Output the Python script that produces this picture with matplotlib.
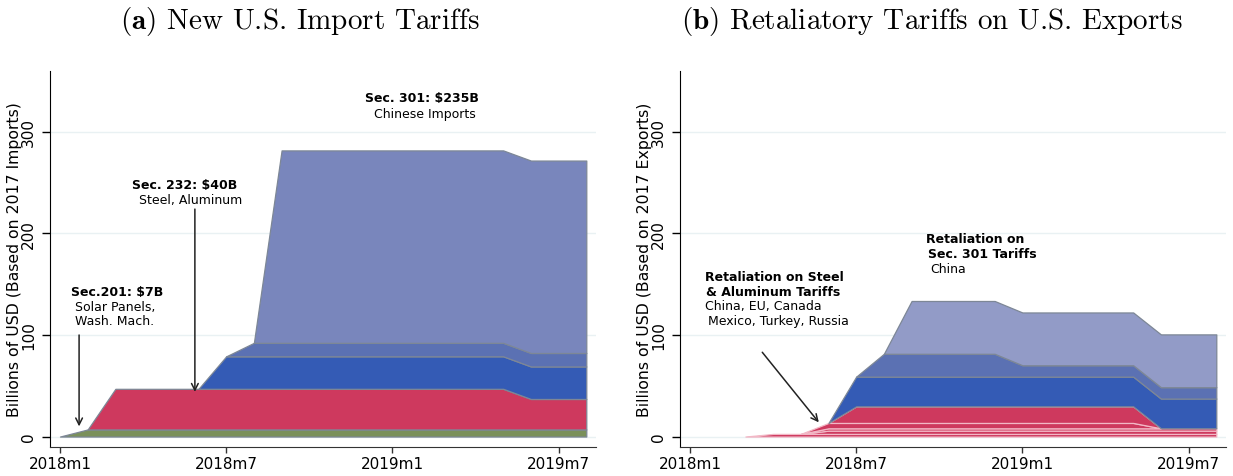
import numpy as np
import matplotlib
matplotlib.use("Agg")
import matplotlib.pyplot as plt

plt.rcParams["font.family"] = "DejaVu Sans"
plt.rcParams["mathtext.fontset"] = "cm"

# months 2018m1 .. 2019m8
months = np.arange(20)
tick_pos = [0, 6, 12, 18]
tick_lab = ["2018m1", "2018m7", "2019m1", "2019m7"]

# (a) new U.S. import tariffs, billions USD (2017 imports)
sec201 = [0, 7, 7, 7, 7, 7, 7, 7, 7, 7, 7, 7, 7, 7, 7, 7, 7, 7, 7, 7]
sec232 = [0, 0, 40, 40, 40, 40, 40, 40, 40, 40, 40, 40, 40, 40, 40, 40, 40, 30, 30, 30]
sec301_t1 = [0, 0, 0, 0, 0, 0, 32, 32, 32, 32, 32, 32, 32, 32, 32, 32, 32, 32, 32, 32]
sec301_t2 = [0, 0, 0, 0, 0, 0, 0, 13.3, 13.3, 13.3, 13.3, 13.3, 13.3, 13.3, 13.3, 13.3, 13.3, 13.3, 13.3, 13.3]
sec301_t3 = [0, 0, 0, 0, 0, 0, 0, 0, 189.5, 189.5, 189.5, 189.5, 189.5, 189.5, 189.5, 189.5, 189.5, 189.5, 189.5, 189.5]

# (b) retaliatory tariffs on U.S. exports, billions USD (2017 exports)
ret_china232 = [0, 0, 0, 2.6, 2.6, 2.6, 2.6, 2.6, 2.6, 2.6, 2.6, 2.6, 2.6, 2.6, 2.6, 2.6, 2.6, 2.6, 2.6, 2.6]
ret_eu = [0, 0, 0, 0, 0, 3.2, 3.2, 3.2, 3.2, 3.2, 3.2, 3.2, 3.2, 3.2, 3.2, 3.2, 3.2, 3.2, 3.2, 3.2]
ret_turkey = [0, 0, 0, 0, 0, 2.3, 2.3, 2.3, 2.3, 2.3, 2.3, 2.3, 2.3, 2.3, 2.3, 2.3, 2.3, 2.3, 2.3, 2.3]
ret_mexico = [0, 0, 0, 0, 0, 5.3, 5.3, 5.3, 5.3, 5.3, 5.3, 5.3, 5.3, 5.3, 5.3, 5.3, 5.3, 0, 0, 0]
ret_canada = [0, 0, 0, 0, 0, 0, 16.3, 16.3, 16.3, 16.3, 16.3, 16.3, 16.3, 16.3, 16.3, 16.3, 16.3, 0, 0, 0]
ret_china301_t1 = [0, 0, 0, 0, 0, 0, 29.3, 29.3, 29.3, 29.3, 29.3, 29.3, 29.3, 29.3, 29.3, 29.3, 29.3, 29.3, 29.3, 29.3]
ret_china301_t2 = [0, 0, 0, 0, 0, 0, 0, 22.5, 22.5, 22.5, 22.5, 22.5, 11.2, 11.2, 11.2, 11.2, 11.2, 11.2, 11.2, 11.2]
ret_china301_t3 = [0, 0, 0, 0, 0, 0, 0, 0, 52, 52, 52, 52, 52, 52, 52, 52, 52, 52, 52, 52]

GREEN = "#7a905a"
RED = "#ce395e"
BLUE1 = "#345bb5"
BLUE2 = "#5b71b3"
BLUE3A = "#7986bc"
BLUE3B = "#929bc7"
EDGE = "#7d8796"
PINK = "#f2b8c6"


def draw_stack(ax, layers, fills, edges):
    base = np.zeros(len(months))
    for vals, fc, ec in zip(layers, fills, edges):
        vals = np.asarray(vals, dtype=float)
        top = base + vals
        pos = vals > 0
        on = pos | np.r_[pos[1:], False] | np.r_[False, pos[:-1]]
        ax.fill_between(months, base, top, where=on, facecolor=fc,
                        edgecolor=ec, linewidth=0.9, zorder=2)
        base = top


def style_axes(ax, ylab):
    ax.set_xlim(-0.36, 19.35)
    ax.set_ylim(-10, 360)
    ax.set_yticks([0, 100, 200, 300])
    ax.set_xticks(tick_pos)
    ax.set_xticklabels(tick_lab)
    ax.grid(axis="y", color="#e9f1f3", linewidth=1.0)
    ax.set_axisbelow(True)
    for s in ["top", "right"]:
        ax.spines[s].set_visible(False)
    ax.spines["left"].set_color("black")
    ax.spines["bottom"].set_color("#333333")
    ax.tick_params(axis="y", length=6, width=1, labelsize=11, pad=4,
                   labelrotation=90)
    for t in ax.get_yticklabels():
        t.set_va("center")
    ax.tick_params(axis="x", length=4, width=1, labelsize=11, pad=3,
                   color="#333333")
    ax.set_ylabel(ylab, fontsize=11.3)
    ax.yaxis.set_label_coords(-0.051, 0.5)


fig = plt.figure(figsize=(12.33, 4.77), dpi=100)
W, H = 1233, 477
ax1 = fig.add_axes([50 / W, (H - 447.7) / H, 546 / W, 375.7 / H])
ax2 = fig.add_axes([680 / W, (H - 447.7) / H, 546 / W, 375.7 / H])

# panel (a)
draw_stack(ax1, [sec201, sec232, sec301_t1, sec301_t2, sec301_t3],
           [GREEN, RED, BLUE1, BLUE2, BLUE3A], [EDGE] * 5)
style_axes(ax1, "Billions of USD (Based on 2017 Imports)")

fs = 9
ax1.text(11.0, 330.5, "Sec. 301: \\$235B", fontsize=fs, fontweight="bold")
ax1.text(11.34, 314.4, "Chinese Imports", fontsize=fs)
ax1.text(2.6, 244.8, "Sec. 232: \\$40B", fontsize=fs, fontweight="bold")
ax1.text(2.85, 230, "Steel, Aluminum", fontsize=fs)
ax1.text(0.4, 139, "Sec.201: \\$7B", fontsize=fs, fontweight="bold")
ax1.text(0.53, 124.6, "Solar Panels,", fontsize=fs)
ax1.text(0.53, 110.6, "Wash. Mach.", fontsize=fs)

arrow = dict(arrowstyle="->", color="#222222", lw=1.1,
             mutation_scale=12, shrinkA=0, shrinkB=0)
ax1.annotate("", xy=(0.69, 10), xytext=(0.69, 100), arrowprops=arrow)
ax1.annotate("", xy=(4.87, 44), xytext=(4.87, 224), arrowprops=arrow)

# panel (b)
draw_stack(ax2, [ret_china232, ret_eu, ret_turkey, ret_mexico, ret_canada,
                 ret_china301_t1, ret_china301_t2, ret_china301_t3],
           [RED] * 5 + [BLUE1, BLUE2, BLUE3B], [PINK] * 5 + [EDGE] * 3)
style_axes(ax2, "Billions of USD (Based on 2017 Exports)")

ax2.text(0.53, 154, "Retaliation on Steel", fontsize=fs, fontweight="bold")
ax2.text(0.585, 139, "& Aluminum Tariffs", fontsize=fs, fontweight="bold")
ax2.text(0.556, 125.3, "China, EU, Canada", fontsize=fs)
ax2.text(0.65, 111, "Mexico, Turkey, Russia", fontsize=fs)
ax2.text(8.51, 191.4, "Retaliation on", fontsize=fs, fontweight="bold")
ax2.text(8.61, 176.6, "Sec. 301 Tariffs", fontsize=fs, fontweight="bold")
ax2.text(8.68, 161.6, "China", fontsize=fs)
ax2.annotate("", xy=(4.65, 14), xytext=(2.61, 83), arrowprops=arrow)

# titles
fig.text(300 / W, 1 - 29 / H, r"$\mathbf{(a)}$ New U.S. Import Tariffs",
         family="cmr10", fontsize=21, ha="center", va="baseline")
fig.text(932 / W, 1 - 29 / H, r"$\mathbf{(b)}$ Retaliatory Tariffs on U.S. Exports",
         family="cmr10", fontsize=21, ha="center", va="baseline")

fig.savefig("out.png", dpi=100)
